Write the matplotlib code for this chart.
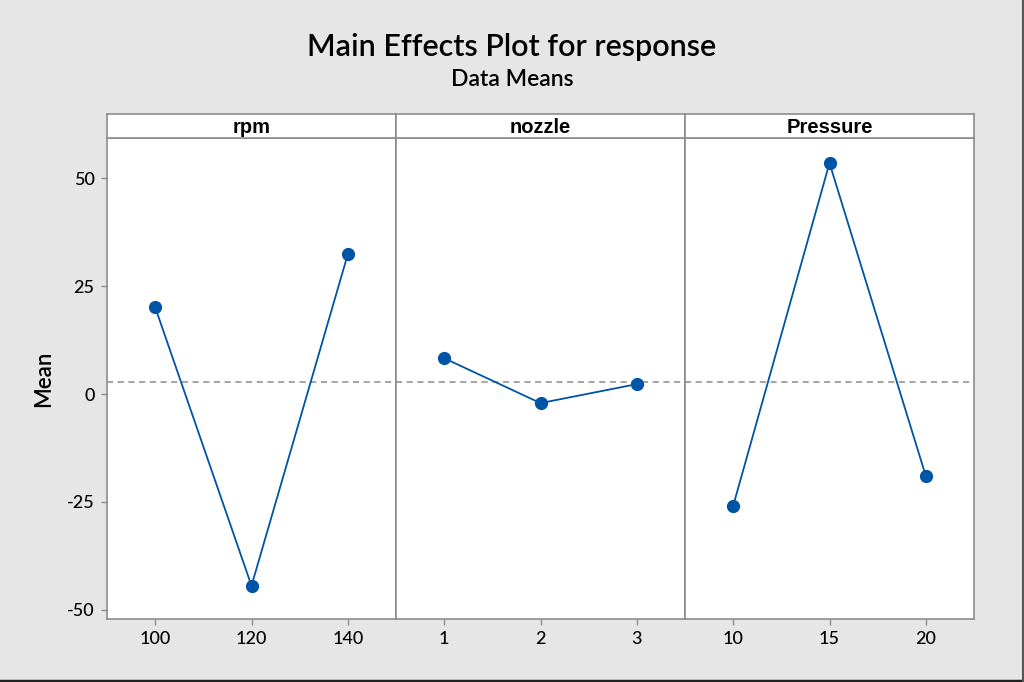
import matplotlib.pyplot as plt
from matplotlib.lines import Line2D
import numpy as np

# 데이터
factors = ["rpm", "nozzle", "Pressure"]
levels = [["100", "120", "140"], ["1", "2", "3"], ["10", "15", "20"]]
rpm_means = [20.1, -44.4, 32.4]
nozzle_means = [8.3, -2.1, 2.3]
pressure_means = [-25.9, 53.5, -19.0]
grand_mean = 2.8
y_ticks = [-50, -25, 0, 25, 50]

plt.rcParams['font.family'] = ['Lato', 'DejaVu Sans']

W, H = 1024, 682
fig = plt.figure(figsize=(W / 100, H / 100), dpi=100)
fig.patch.set_facecolor('#e6e6e6')

left, right = 107, 974
top_head, top_plot, bottom = 114, 138, 619
pw = (right - left) / 3
edge = '#8c8c8c'
blue = '#0054a6'

all_means = [rpm_means, nozzle_means, pressure_means]
for k, (name, labs, means) in enumerate(zip(factors, levels, all_means)):
    x0 = left + k * pw
    ax = fig.add_axes([x0 / W, 1 - bottom / H, pw / W, (bottom - top_plot) / H])
    ax.set_facecolor('white')
    x = np.arange(len(labs))
    ax.axhline(grand_mean, color='#8c8c8c', linestyle=(0, (4, 3)), linewidth=1.1, zorder=1)
    ax.plot(x, means, color=blue, linewidth=1.3, marker='o', markersize=8.5, zorder=3)
    ax.set_xlim(-0.5, 2.5)
    ax.set_ylim(-52.1, 59.3)
    ax.set_xticks(x)
    ax.set_xticklabels(labs, fontsize=13, fontweight='medium')
    ax.set_yticks(y_ticks)
    if k == 0:
        ax.set_yticklabels([str(v) for v in y_ticks], fontsize=13, fontweight='medium')
        ax.set_ylabel("Mean", fontsize=16, fontweight='semibold', labelpad=9)
    else:
        ax.tick_params(axis='y', left=False, labelleft=False)
    ax.tick_params(colors=edge, labelcolor='black', length=4, width=1, pad=5)
    for s in ax.spines.values():
        s.set_color(edge)
        s.set_linewidth(1.2)

    # 헤더
    hx = fig.add_axes([x0 / W, 1 - top_plot / H, pw / W, (top_plot - top_head) / H])
    hx.set_facecolor('white')
    hx.set_xticks([])
    hx.set_yticks([])
    for s in hx.spines.values():
        s.set_color(edge)
        s.set_linewidth(1.2)
    hx.text(0.5, 0.45, name, ha='center', va='center', fontsize=14.5, fontweight='bold',
            family=['Liberation Sans', 'DejaVu Sans'], transform=hx.transAxes)

fig.text(512 / W, 1 - 47 / H, "Main Effects Plot for response", ha='center', va='center', fontsize=22, fontweight='semibold')
fig.text(512 / W, 1 - 80 / H, "Data Means", ha='center', va='center', fontsize=16.5, fontweight='semibold')

# 오른쪽/아래 테두리
fig.add_artist(Line2D([0, 1], [0.0015, 0.0015], color='#222222', linewidth=2.5, transform=fig.transFigure))
fig.add_artist(Line2D([0.999, 0.999], [0, 1], color='#555555', linewidth=1.5, transform=fig.transFigure))

plt.savefig('out.png', dpi=100, facecolor=fig.get_facecolor())
